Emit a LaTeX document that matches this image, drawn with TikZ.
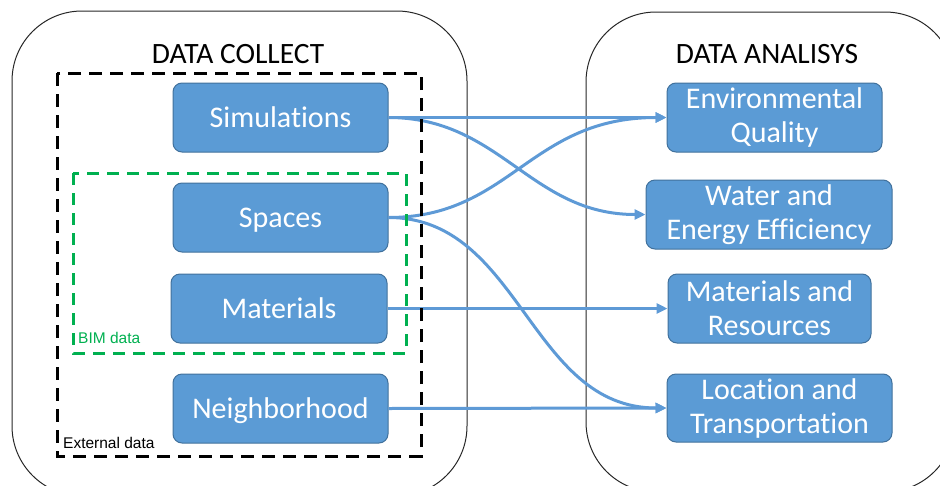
\documentclass[tikz,border=0pt]{standalone}
\usepackage{fontspec}
\setmainfont{Carlito}[Ligatures=NoCommon]
\newfontfamily\arialf{Liberation Sans}
\usetikzlibrary{arrows.meta}
\definecolor{boxblue}{HTML}{5B9BD5}
\definecolor{boxborder}{HTML}{41719C}
\definecolor{arrowblue}{HTML}{5E9AD6}
\definecolor{bimgreen}{HTML}{00B050}
\tikzset{
  outerframe/.style={draw=black!85, line width=1pt, rounded corners=70pt},
  box/.style={draw=boxborder, fill=boxblue, rounded corners=9pt, text=white,
    font=\fontsize{30}{34}\selectfont, align=center, inner sep=0pt, line width=1pt},
  onebox/.style={box, text height=19.3pt, text depth=0pt},
  link/.style={draw=arrowblue, line width=3pt, -{Triangle[length=11pt,width=10pt]}},
  blackdash/.style={draw=black, line width=3pt, dash pattern=on 13pt off 8pt},
  greendash/.style={draw=bimgreen, line width=3pt, dash pattern=on 12pt off 8pt},
  title/.style={font=\fontsize{29.5}{34}\selectfont, anchor=base, inner sep=0pt},
  smalllabel/.style={font=\arialf\fontsize{15.5}{18}\selectfont, anchor=base west, inner sep=0pt}
}
\begin{document}
\begin{tikzpicture}[x=1pt, y=-1pt]
\clip (0,0) rectangle (940,485);
% outer frames
\draw[outerframe] (12,11) rectangle (467,496);
\draw[outerframe] (586,12) rectangle (955,492);
% titles
\node[title] (tcol) at (238,63) {DATA COLLECT};
\node[title] (tana) at (767,63) {DATA ANALISYS};
% left boxes
\node[onebox, minimum width=215pt, minimum height=69pt] (sim) at (280.5,117.5) {Simulations};
\node[onebox, minimum width=215pt, minimum height=69pt] (spa) at (280.5,217.5) {Spaces};
\node[onebox, minimum width=216pt, minimum height=69pt] (mat) at (279,308.5) {Materials};
\node[onebox, minimum width=215pt, minimum height=69pt] (nei) at (280.5,408.5) {Neighborhood};
% right boxes
\node[box, minimum width=215pt, minimum height=69pt] (env) at (774.5,117.5) {Environmental\\Quality};
\node[box, minimum width=246pt, minimum height=69pt] (wat) at (769,214.5) {Water and\\Energy Efficiency};
\node[box, minimum width=203pt, minimum height=69pt] (mres) at (769.5,308.5) {Materials and\\Resources};
\node[box, minimum width=225pt, minimum height=68pt] (loc) at (779.5,408) {Location and\\Transportation};
% connectors
\draw[link] (sim.east) -- (env.west);
\draw[link] (sim.east) .. controls +(112,0) and +(-115,0) .. (wat.west);
\draw[link] (spa.east) .. controls +(122,0) and +(-137,0) .. (env.west);
\draw[link] (spa.east) .. controls +(132,0) and +(-137,0) .. (loc.west);
\draw[link] (mat.east) -- (mres.west);
\draw[link] (nei.east) -- (loc.west);
% dashed groups
\draw[blackdash] (57,73) rectangle (421,456);
\draw[greendash] (73,173) rectangle (406,353);
\node[smalllabel, text=bimgreen] (bim) at (78,343) {BIM data};
\node[smalllabel, text=black] (ext) at (63,448) {External data};
\end{tikzpicture}
\end{document}
